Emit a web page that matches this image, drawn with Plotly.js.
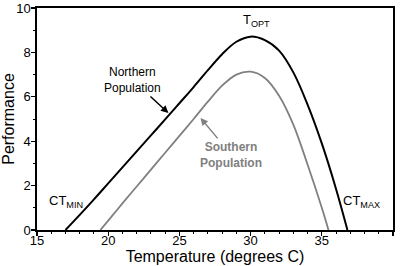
<!DOCTYPE html>
<html>
<head>
<meta charset="utf-8">
<script src="https://cdn.plot.ly/plotly-3.0.1.min.js"></script>
<style>html,body{margin:0;padding:0;background:#fff;}#chart{width:400px;height:266px;}</style>
</head>
<body>
<div id="chart"></div>
<script>
// Northern population thermal performance curve
const northTemp = [17, 18, 19, 20, 21, 22, 23, 24, 25, 26, 27, 28, 29, 30, 31, 32, 33, 34, 35, 36, 36.8];
const northPerf = [0, 0.68, 1.38, 2.1, 2.82, 3.54, 4.26, 4.98, 5.71, 6.44, 7.2, 7.92, 8.48, 8.71, 8.55, 8.08, 7.1, 5.65, 3.9, 1.85, 0];
// Southern population thermal performance curve
const southTemp = [19.45, 20, 21, 22, 23, 24, 25, 26, 27, 28, 29, 30, 31, 32, 33, 34, 35, 35.47];
const southPerf = [0, 0.42, 1.2, 1.96, 2.72, 3.48, 4.24, 5.0, 5.78, 6.5, 7.0, 7.13, 6.85, 6.05, 4.75, 2.95, 1.0, 0];
const xTicks = [15, 20, 25, 30, 35, 40];
const yTicks = [0, 2, 4, 6, 8, 10];

const font = 'Liberation Sans, Arial, Helvetica, sans-serif';

const traces = [
  {x: northTemp, y: northPerf, mode: 'lines', line: {color: '#000000', width: 2, shape: 'spline', smoothing: 1}, hoverinfo: 'none'},
  {x: southTemp, y: southPerf, mode: 'lines', line: {color: '#808080', width: 1.8, shape: 'spline', smoothing: 1}, hoverinfo: 'none'}
];

const axisCommon = {
  showline: true, mirror: true, linecolor: '#000', linewidth: 1.6,
  showgrid: false, zeroline: false,
  ticks: 'outside', ticklen: 4, tickwidth: 1.3, tickcolor: '#000',
  tickfont: {family: font, size: 13, color: '#000'},
  minor: {dtick: 1, ticks: 'outside', ticklen: 2.5, tickwidth: 1, tickcolor: '#000'},
  automargin: false, fixedrange: true
};

const layout = {
  width: 400, height: 266,
  margin: {l: 37, r: 7, t: 8, b: 36},
  paper_bgcolor: '#fff', plot_bgcolor: '#fff',
  showlegend: false,
  xaxis: Object.assign({}, axisCommon, {
    range: [15, 40], tickmode: 'array', tickvals: xTicks, ticktext: xTicks.map(String),
    ticklabelstandoff: -6,
    title: {text: 'Temperature (degrees C)', font: {family: font, size: 16, color: '#000'}, standoff: 0}
  }),
  yaxis: Object.assign({}, axisCommon, {
    range: [0, 10], tickmode: 'array', tickvals: yTicks, ticktext: yTicks.map(String),
    ticklabelstandoff: -2,
    title: {text: 'Performance', font: {family: font, size: 16, color: '#000'}, standoff: 4}
  }),
  annotations: [
    {x: 24.23, y: 5.27, xref: 'x', yref: 'y', text: 'Northern<br>Population', showarrow: true,
     ax: -36, ay: -33, arrowhead: 2, arrowsize: 1, arrowwidth: 1.5, arrowcolor: '#000',
     font: {family: font, size: 12, color: '#000'}},
    {x: 26.48, y: 5.05, xref: 'x', yref: 'y', text: '<b>Southern<br>Population</b>', showarrow: true,
     ax: 31, ay: 37, arrowhead: 2, arrowsize: 1, arrowwidth: 1.5, arrowcolor: '#808080',
     font: {family: font, size: 12, color: '#808080'}},
    {x: 30.4, y: 9.45, xref: 'x', yref: 'y', text: 'T<sub>OPT</sub>', showarrow: false,
     font: {family: font, size: 13, color: '#000'}},
    {x: 17.05, y: 1.3, xref: 'x', yref: 'y', text: 'CT<sub>MIN</sub>', showarrow: false,
     font: {family: font, size: 13, color: '#000'}},
    {x: 37.8, y: 1.3, xref: 'x', yref: 'y', text: 'CT<sub>MAX</sub>', showarrow: false,
     font: {family: font, size: 13, color: '#000'}}
  ]
};

Plotly.newPlot('chart', traces, layout, {staticPlot: true, displayModeBar: false});
</script>
</body>
</html>
